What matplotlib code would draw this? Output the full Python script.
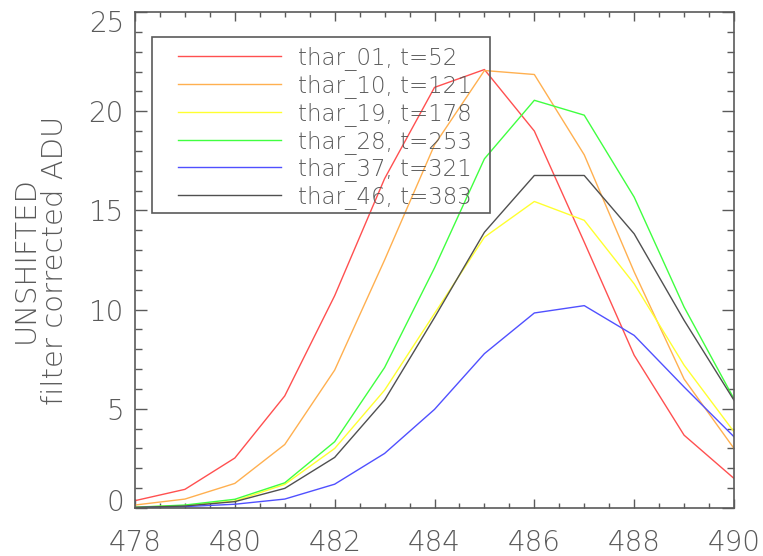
import matplotlib
matplotlib.use("Agg")
import matplotlib.pyplot as plt
import matplotlib.transforms as mtransforms
from matplotlib.patches import Rectangle
from matplotlib.ticker import MultipleLocator

wavelength = [478, 479, 480, 481, 482, 483, 484, 485, 486, 487, 488, 489, 490]

thar_01 = [0.37, 0.94, 2.52, 5.65, 10.7, 16.6, 21.2, 22.1, 19.0, 13.4, 7.7, 3.67, 1.49]
thar_10 = [0.15, 0.45, 1.24, 3.2, 6.95, 12.5, 18.3, 22.05, 21.85, 17.8, 11.9, 6.5, 3.0]
thar_19 = [0.04, 0.12, 0.35, 1.19, 3.0, 5.94, 9.8, 13.65, 15.45, 14.5, 11.3, 7.2, 3.84]
thar_28 = [0.04, 0.15, 0.44, 1.27, 3.34, 7.08, 12.1, 17.6, 20.55, 19.8, 15.67, 10.13, 5.5]
thar_37 = [0.02, 0.07, 0.19, 0.45, 1.2, 2.75, 4.97, 7.78, 9.83, 10.2, 8.7, 6.1, 3.59]
thar_46 = [0.03, 0.10, 0.32, 0.99, 2.55, 5.44, 9.6, 13.9, 16.76, 16.76, 13.82, 9.46, 5.43]

labels = ["thar_01, t=52", "thar_10, t=121", "thar_19, t=178",
          "thar_28, t=253", "thar_37, t=321", "thar_46, t=383"]
series = [thar_01, thar_10, thar_19, thar_28, thar_37, thar_46]
colors = ["#ff5050", "#ffb050", "#ffff30", "#40ff40", "#5050ff", "#505050"]

GRAY = "#5a5a5a"
plt.rcParams["font.family"] = "DejaVu Sans"
plt.rcParams["font.weight"] = 200
plt.rcParams["axes.labelweight"] = 200

fig = plt.figure(figsize=(7.63, 5.56), dpi=100)
ax = fig.add_axes([135 / 763, 1 - 508 / 556, 599 / 763, 496 / 556])

for vals, col, lab in zip(series, colors, labels):
    ax.plot(wavelength, vals, color=col, lw=1.0, label=lab)

ax.set_xlim(478, 490)
ax.set_ylim(0, 25)
ax.xaxis.set_major_locator(MultipleLocator(2))
ax.xaxis.set_minor_locator(MultipleLocator(0.5))
ax.yaxis.set_major_locator(MultipleLocator(5))
ax.yaxis.set_minor_locator(MultipleLocator(1))

for sp in ax.spines.values():
    sp.set_color(GRAY)
    sp.set_linewidth(1.2)
ax.tick_params(which="both", direction="in", top=True, right=True,
               colors=GRAY, labelcolor=GRAY, width=1.0, labelsize=20)
ax.tick_params(axis="x", which="major", length=6.8, pad=15)
ax.tick_params(axis="x", which="minor", length=3.6)
ax.tick_params(axis="y", which="major", length=8.5, pad=8)
ax.tick_params(axis="y", which="minor", length=4.8)

ax.set_ylabel("UNSHIFTED\nfilter corrected ADU", fontsize=21, fontweight=200,
              color=GRAY, linespacing=1.05, va="center")
ax.yaxis.set_label_coords(-0.158, 0.5)

# nudge the end labels of the y axis inward
fig.canvas.draw()
for t in ax.get_yticklabels():
    if t.get_text() == "0":
        t.set_transform(t.get_transform() + mtransforms.ScaledTranslation(0, 8 / 100, fig.dpi_scale_trans))
    elif t.get_text() == "25":
        t.set_transform(t.get_transform() + mtransforms.ScaledTranslation(0, -9 / 100, fig.dpi_scale_trans))

# legend box
ax.add_patch(Rectangle((17 / 599, (508 - 213) / 496), 338 / 599, 176 / 496,
                       transform=ax.transAxes, fill=False, ec=GRAY, lw=1.2, zorder=5))
leg = ax.legend(loc="upper left", bbox_to_anchor=((178 - 135) / 599, (508 - 46) / 496),
                frameon=False, fontsize=16.5, handlelength=4.5, handletextpad=0.74,
                labelspacing=0.17, borderpad=0, borderaxespad=0)
for t in leg.get_texts():
    t.set_color(GRAY)

fig.savefig("out.png", dpi=100)
